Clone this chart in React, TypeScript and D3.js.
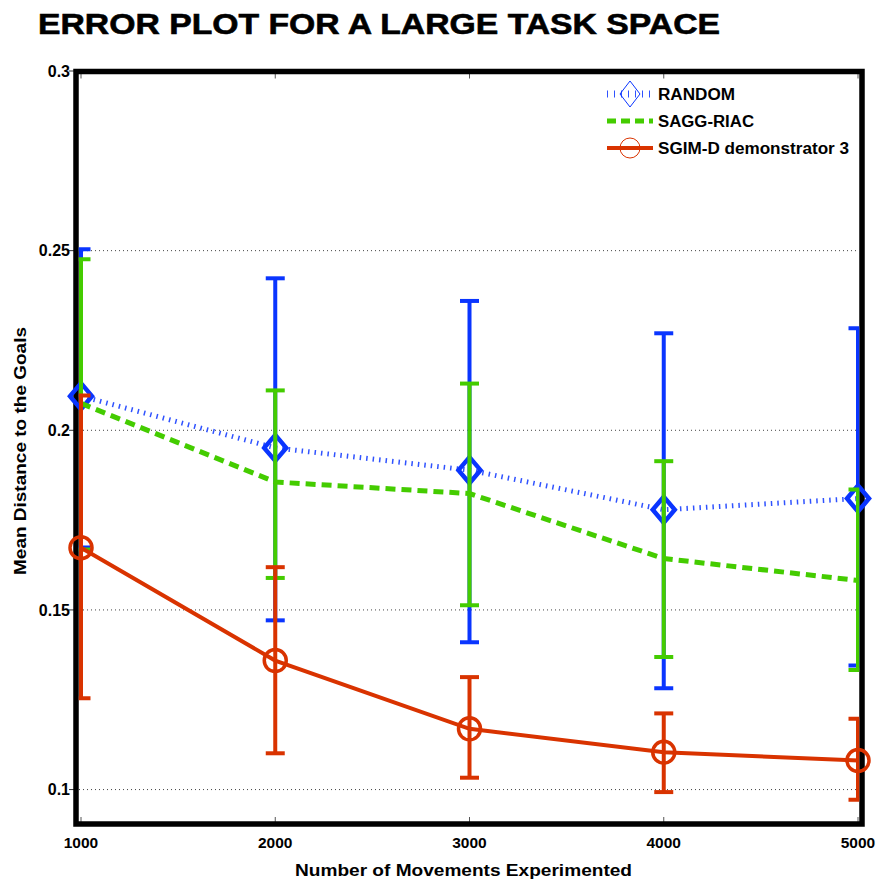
import * as d3 from 'd3';

const movements = [1000, 2000, 3000, 4000, 5000];

const randomMean = [0.2095, 0.1951, 0.1889, 0.1779, 0.181];
const randomLow = [0.1674, 0.1471, 0.141, 0.1282, 0.1345];
const randomHigh = [0.2504, 0.2423, 0.236, 0.227, 0.2284];

const saggMean = [0.2075, 0.1856, 0.1824, 0.1643, 0.1582];
const saggLow = [0.1668, 0.1589, 0.1513, 0.1369, 0.1333];
const saggHigh = [0.2476, 0.2111, 0.213, 0.1914, 0.1835];

const sgimMean = [0.1673, 0.1359, 0.1169, 0.1104, 0.1081];
const sgimLow = [0.1254, 0.1101, 0.1033, 0.0993, 0.0972];
const sgimHigh = [0.2097, 0.1619, 0.1313, 0.1212, 0.1197];

const yTicks = [0.1, 0.15, 0.2, 0.25, 0.3];
const yTickLabels = ['0.1', '0.15', '0.2', '0.25', '0.3'];
const xTickLabels = ['1000', '2000', '3000', '4000', '5000'];

const W = 877;
const H = 885;
const frame = { left: 76, right: 862, top: 71.5, bottom: 824 };
const font = '"Liberation Sans", Arial, Helvetica, sans-serif';

const x = d3.scaleLinear().domain([1000, 5000]).range([81, 858]);
const y = d3.scaleLinear().domain([0.09, 0.3]).range([825.5, 71]);

const series = [
  {
    name: 'RANDOM',
    mean: randomMean,
    low: randomLow,
    high: randomHigh,
    bar: '#0a35ff',
    line: '#2f52ff',
    width: 5,
    dash: '1.5 5',
    marker: 'diamond',
    labelWidth: 77,
  },
  {
    name: 'SAGG-RIAC',
    mean: saggMean,
    low: saggLow,
    high: saggHigh,
    bar: '#44cc00',
    line: '#44cc00',
    width: 5,
    dash: '10 6',
    marker: 'none',
    labelWidth: 96,
  },
  {
    name: 'SGIM-D demonstrator 3',
    mean: sgimMean,
    low: sgimLow,
    high: sgimHigh,
    bar: '#d93300',
    line: '#d93300',
    width: 4,
    dash: undefined,
    marker: 'circle',
    labelWidth: 191,
  },
];

function Marker({ kind, cx, cy, color, big }: { kind: string; cx: number; cy: number; color: string; big: boolean }) {
  if (kind === 'diamond') {
    const hw = big ? 11 : 10;
    const hh = 13;
    return (
      <path
        d={`M${cx - hw},${cy}L${cx},${cy - hh}L${cx + hw},${cy}L${cx},${cy + hh}Z`}
        fill="none"
        stroke={color}
        strokeWidth={big ? 4.5 : 1}
      />
    );
  }
  if (kind === 'circle') {
    return <circle cx={cx} cy={cy} r={big ? 11 : 10} fill="none" stroke={color} strokeWidth={big ? 3.5 : 1} />;
  }
  return null;
}

export default function App() {
  const line = d3
    .line<number>()
    .x((_, i) => x(movements[i]))
    .y((d) => y(d));

  const cap = 9.5;

  return (
    <svg width={W} height={H} style={{ position: 'absolute', left: 0, top: 0, background: '#fff' }}>
      <defs>
        <clipPath id="plotArea">
          <rect x={frame.left + 2.75} y={frame.top} width={frame.right - frame.left - 5.5} height={frame.bottom - frame.top} />
        </clipPath>
      </defs>
      <rect width={W} height={H} fill="#fff" />

      {/* title */}
      <text
        x={38}
        y={34}
        fontFamily={font}
        fontWeight="bold"
        fontSize={29}
        textLength={682}
        lengthAdjust="spacingAndGlyphs"
        fill="#000"
        stroke="#000"
        strokeWidth={0.6}
      >
        ERROR PLOT FOR A LARGE TASK SPACE
      </text>

      {/* dotted grid */}
      {yTicks.slice(0, 4).map((t) => (
        <line
          key={t}
          x1={frame.left + 3}
          x2={frame.right - 3}
          y1={y(t)}
          y2={y(t)}
          stroke="#444"
          strokeWidth={1}
          strokeDasharray="1 3"
        />
      ))}

      {/* y ticks + labels */}
      {yTicks.map((t, i) => (
        <g key={t}>
          <line x1={frame.left - 7} x2={frame.left} y1={y(t)} y2={y(t)} stroke="#333" strokeWidth={1} />
          <text
            x={70}
            y={y(t)}
            dy="0.36em"
            textAnchor="end"
            fontFamily={font}
            fontWeight="bold"
            fontSize={16}
            fill="#000"
          >
            {yTickLabels[i]}
          </text>
        </g>
      ))}

      {/* x ticks + labels */}
      {movements.map((m, i) => (
        <g key={m}>
          <line x1={x(m)} x2={x(m)} y1={frame.bottom} y2={frame.bottom - 7} stroke="#555" strokeWidth={1} />
          <line x1={x(m)} x2={x(m)} y1={frame.top} y2={frame.top + 7} stroke="#555" strokeWidth={1} />
          <text
            x={x(m)}
            y={848}
            textAnchor="middle"
            fontFamily={font}
            fontWeight="bold"
            fontSize={15.5}
            fill="#000"
          >
            {xTickLabels[i]}
          </text>
        </g>
      ))}

      {/* frame */}
      <rect
        x={frame.left}
        y={frame.top}
        width={frame.right - frame.left}
        height={frame.bottom - frame.top}
        fill="none"
        stroke="#000"
        strokeWidth={5.5}
      />

      {/* series */}
      {series.map((s) => (
        <g key={s.name}>
          <g clipPath="url(#plotArea)">
            {movements.map((m, i) => (
              <g key={m} stroke={s.bar} strokeWidth={4} fill="none">
                <line x1={x(m)} x2={x(m)} y1={y(s.low[i])} y2={y(s.high[i])} />
                <line x1={x(m) - cap} x2={x(m) + cap} y1={y(s.low[i])} y2={y(s.low[i])} />
                <line x1={x(m) - cap} x2={x(m) + cap} y1={y(s.high[i])} y2={y(s.high[i])} />
              </g>
            ))}
          </g>
          <path
            d={line(s.mean) || ''}
            fill="none"
            stroke={s.line}
            strokeWidth={s.width}
            strokeDasharray={s.dash}
          />
          {movements.map((m, i) => (
            <Marker key={m} kind={s.marker} cx={x(m)} cy={y(s.mean[i])} color={s.bar} big={true} />
          ))}
        </g>
      ))}

      {/* legend */}
      {series.map((s, i) => {
        const ly = 94 + i * 27;
        return (
          <g key={s.name}>
            <line
              x1={607}
              x2={653}
              y1={ly}
              y2={ly}
              stroke={s.line}
              strokeWidth={s.marker === 'diamond' ? 7 : s.width}
              strokeDasharray={s.marker === 'diamond' ? '1 6' : s.dash ? '9 5' : undefined}
            />
            <Marker kind={s.marker} cx={630} cy={ly} color={s.bar} big={false} />
            <text
              x={658}
              y={ly}
              dy="0.36em"
              fontFamily={font}
              fontWeight="bold"
              fontSize={16}
              textLength={s.labelWidth}
              lengthAdjust="spacingAndGlyphs"
              fill="#000"
            >
              {s.name}
            </text>
          </g>
        );
      })}

      {/* axis labels */}
      <text
        x={463.5}
        y={876}
        textAnchor="middle"
        fontFamily={font}
        fontWeight="bold"
        fontSize={17}
        textLength={337}
        lengthAdjust="spacingAndGlyphs"
        fill="#000"
      >
        Number of Movements Experimented
      </text>
      <text
        transform="translate(26,451) rotate(-90)"
        textAnchor="middle"
        fontFamily={font}
        fontWeight="bold"
        fontSize={16}
        textLength={248}
        lengthAdjust="spacingAndGlyphs"
        fill="#000"
      >
        Mean Distance to the Goals
      </text>
    </svg>
  );
}
